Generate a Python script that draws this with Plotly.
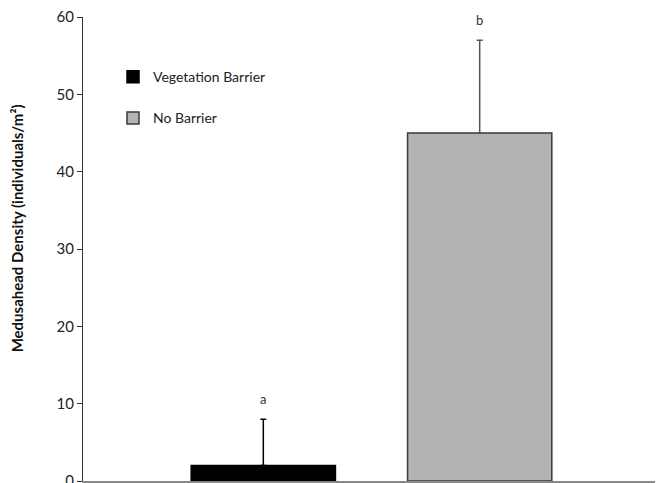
import plotly.graph_objects as go

category = ["Treatment"]
series_names = ["Vegetation Barrier", "No Barrier"]
means = [2, 45]
errors_up = [6, 12]
letters = ["a", "b"]
y_ticks = [0, 10, 20, 30, 40, 50, 60]

fills = ["#000000", "#b3b3b3"]
outlines = ["#000000", "#3a3a3a"]
err_colors = ["#000000", "#555555"]
FONT = "Lato, Liberation Sans, sans-serif"

fig = go.Figure()
for i, name in enumerate(series_names):
    fig.add_trace(go.Bar(
        x=category, y=[means[i]], name=name,
        marker=dict(color=fills[i], line=dict(color=outlines[i], width=1.5)),
        error_y=dict(type="data", array=[errors_up[i]], arrayminus=[0],
                     symmetric=False, color=err_colors[i], thickness=1.5, width=3),
        legendgroup=name, offsetgroup=str(i),
    ))

offsets = [-0.1875, 0.1875]
for i in range(len(series_names)):
    fig.add_annotation(x=offsets[i], y=means[i] + errors_up[i], text=letters[i],
                       xref="x", yref="y", showarrow=False, yshift=20,
                       font=dict(family=FONT, size=13, color="#333333"))

fig.add_annotation(text="<b>Medusahead Density (individuals/m²)</b>", textangle=-90,
                   xref="paper", yref="paper", x=-0.114, y=0.545, showarrow=False,
                   font=dict(family=FONT, size=15, color="#111111"),
                   xanchor="center", yanchor="middle")

fig.update_layout(
    width=655, height=475,
    margin=dict(l=75, r=3, t=9, b=2, autoexpand=False),
    paper_bgcolor="white", plot_bgcolor="white",
    barmode="group", bargap=0.25, bargroupgap=1/3,
    showlegend=True,
    legend=dict(x=0.052, y=0.905, xanchor="left", yanchor="top",
                font=dict(family=FONT, size=14, color="#222222"),
                tracegroupgap=20, bgcolor="rgba(0,0,0,0)", itemwidth=30),
    xaxis=dict(range=[-0.5, 0.5], showticklabels=False, ticks="",
               showline=True, linecolor="#888888", linewidth=1.5, showgrid=False,
               zeroline=False, automargin=False),
    yaxis=dict(range=[0, 60], tickvals=y_ticks, ticks="outside", ticklen=5,
               tickcolor="#333333", showline=True, linecolor="#333333", linewidth=1,
               showgrid=False, zeroline=False, ticklabeloverflow="allow", automargin=False,
               tickfont=dict(family=FONT, size=15, color="#222222")),
)

fig.write_html("out.html")
